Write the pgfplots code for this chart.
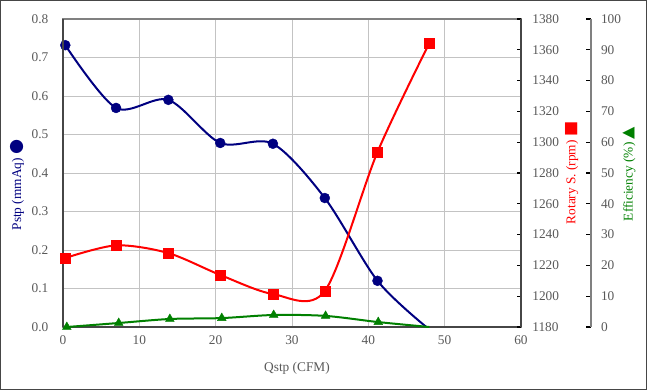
\documentclass[border=0pt]{standalone}
\usepackage{pgfplots}
\pgfplotsset{compat=1.18}
\usepackage{fontspec}
\setmainfont{Liberation Serif}
\newfontfamily\symfont{DejaVu Sans}
\definecolor{navy}{RGB}{0,0,128}
\definecolor{tickgray}{RGB}{89,89,89}
\definecolor{gridgray}{RGB}{195,195,195}
\definecolor{axgray}{RGB}{70,70,70}
\definecolor{effgreen}{RGB}{0,128,0}
\begin{document}
\begin{tikzpicture}
\useasboundingbox (-47.25pt,-47.25pt) rectangle (438pt,245.25pt);
\pgfplotsset{
  every axis/.append style={scale only axis, width=343.5pt, height=231pt,
    font=\fontsize{10}{12}\selectfont,
    /pgf/number format/assume math mode=true,
    tick label style={text=tickgray},
    /pgf/number format/1000 sep={}},
}
% main axis: Pstp
\begin{axis}[
  xmin=0, xmax=60, ymin=0, ymax=0.8,
  xtick={0,10,20,30,40,50,60},
  ytick={0,0.1,0.2,0.3,0.4,0.5,0.6,0.7,0.8},
  yticklabel style={/pgf/number format/.cd,fixed,fixed zerofill,precision=1, /tikz/xshift=-7.5pt},
  xticklabel style={yshift=-3pt},
  grid=major, major grid style={gridgray, line width=0.6pt},
  axis line style={gray, line width=0.8pt},
  major tick length=0pt,
]
\addplot[navy, line width=1.5pt, smooth, mark=*, mark size=3.75pt,
  mark options={line width=0.3pt}, mark indices={1,2,3,4,5,6,7}]
  coordinates {(0.3,0.732)(6.95,0.569)(13.8,0.59)(20.6,0.478)(27.5,0.476)(34.3,0.335)(41.2,0.12)(47.6,0)};
\end{axis}
\draw[axgray, line width=0.8pt] (0,0) -- (0,231pt);
\draw[axgray, line width=0.8pt] (0,0) -- (343.5pt,0);
% rotary speed axis
\begin{axis}[
  xmin=0, xmax=60, ymin=1180, ymax=1380,
  axis x line=none, axis y line*=right,
  ytick={1180,1200,1220,1240,1260,1280,1300,1320,1340,1360,1380},
  tick align=inside, major tick length=3pt,
  axis line style={axgray, line width=0.8pt},
  y tick style={black, line width=0.8pt},
  yticklabel style={xshift=5pt},
]
\addplot[red, line width=1.5pt, smooth, mark=square*, mark size=3.75pt,
  mark options={line width=0.3pt}]
  coordinates {(0.3,1224.8)(6.95,1233)(13.8,1228)(20.6,1213.8)(27.5,1201.4)(34.3,1203.4)(41.2,1293.6)(48.0,1364.4)};
\end{axis}
% efficiency data
\begin{axis}[
  xmin=0, xmax=60, ymin=0, ymax=100, hide axis,
]
\addplot[effgreen, line width=1.5pt, smooth, mark=triangle*, mark size=3.8pt,
  mark options={line width=0.3pt}, mark indices={1,2,3,4,5,6,7}]
  coordinates {(0.5,0)(7.3,1.3)(14.0,2.6)(20.8,2.9)(27.6,3.9)(34.4,3.6)(41.3,1.6)(48.0,0)};
\end{axis}
% efficiency scale
\begin{axis}[
  at={(395pt,0pt)}, width=1pt,
  xmin=0, xmax=1, ymin=0, ymax=100,
  axis x line=none, axis y line*=right,
  ytick={0,10,20,30,40,50,60,70,80,90,100},
  tick align=inside, major tick length=4pt,
  axis line style={gray, line width=0.8pt},
  y tick style={black, line width=0.8pt},
  yticklabel style={xshift=4pt},
]
\addplot[draw=none] coordinates {(0,0)};
\end{axis}
% labels
\node[rotate=90, text=navy, inner sep=0pt] at (-34.5pt,106.5pt)
  {\fontsize{10}{12}\selectfont Pstp (mmAq) {\symfont\fontsize{13}{13}\selectfont ●}};
\node[rotate=90, text=red, inner sep=0pt] at (381.5pt,115.5pt)
  {\fontsize{10}{12}\selectfont Rotary S. (rpm) {\symfont\fontsize{12}{12}\selectfont ■}};
\node[rotate=90, text=effgreen, inner sep=0pt] at (424.5pt,114.75pt)
  {\fontsize{10}{12}\selectfont Efficiency (\%) {\symfont\fontsize{12}{12}\selectfont ▲}};
\node[text=tickgray, inner sep=0pt] at (175.5pt,-30.75pt)
  {\fontsize{10}{12}\selectfont Qstp (CFM)};
% frame
\draw[axgray, line width=1pt] (-46.75pt,-46.75pt) rectangle (437.5pt,244.75pt);
\end{tikzpicture}
\end{document}
